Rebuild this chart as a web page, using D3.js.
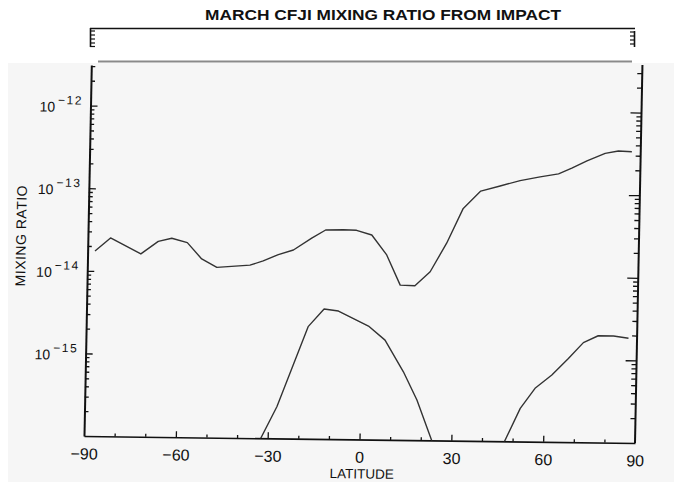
<!DOCTYPE html>
<html><head><meta charset="utf-8">
<script src="https://cdn.jsdelivr.net/npm/d3@7"></script>
<style>
body{margin:0;background:#fff}
text{font-family:"Liberation Sans",Arial,Helvetica,sans-serif;fill:#111}
</style></head><body>
<svg id="chart" width="674" height="482"></svg>
<script>
// ---- data ----
const chartTitle = "MARCH CFJI MIXING RATIO FROM IMPACT";
const xTitle = "LATITUDE";
const yTitle = "MIXING RATIO";
const xTickValues = [-90, -60, -30, 0, 30, 60, 90];
const xMinorTicks = [-80, -70, -50, -40, -20, -10, 10, 20, 40, 50, 70, 80];
const yDecadeExponents = [-12, -13, -14, -15];

// upper curve (total CFJI mixing ratio)
const upperLat = [-87.6, -82.6, -72.6, -67.0, -62.6, -57.5, -52.7, -47.7, -36.9, -32.6, -27.7, -22.8, -16.9, -12.4, -6.6, -2.3, 2.7, 7.7, 12.3, 17.1, 22.0, 27.2, 32.4, 38.0, 44.3, 50.8, 57.3, 63.3, 67.6, 72.5, 78.4, 82.7, 87.1];
const upperVal = [1.74e-14, 2.52e-14, 1.63e-14, 2.33e-14, 2.55e-14, 2.27e-14, 1.45e-14, 1.15e-14, 1.24e-14, 1.40e-14, 1.68e-14, 1.92e-14, 2.69e-14, 3.39e-14, 3.44e-14, 3.40e-14, 3.00e-14, 1.73e-14, 7.5e-15, 7.4e-15, 1.10e-14, 2.45e-14, 6.5e-14, 1.06e-13, 1.23e-13, 1.44e-13, 1.61e-13, 1.76e-13, 2.07e-13, 2.56e-13, 3.17e-13, 3.40e-13, 3.35e-13];

// lower curve (drops below the axis floor between the humps)
const lowerLat = [-37.5, -27.2, -17.5, -12.4, -7.7, 2.2, 7.7, 13.9, 18.5, 27.5, 37.5, 42.5, 52.3, 57.0, 62.4, 67.7, 72.5, 77.3, 82.3, 87.2];
const lowerVal = [4e-17, 2.42e-16, 2.28e-15, 3.75e-15, 3.56e-15, 2.37e-15, 1.61e-15, 6.7e-16, 3.07e-16, 4.2e-17, 1e-17, 4e-17, 2.52e-16, 4.43e-16, 6.45e-16, 1.03e-15, 1.61e-15, 1.96e-15, 1.96e-15, 1.85e-15];

// ---- drawing ----
const svg = d3.select("#chart");
const FONT = '"Liberation Sans",Arial,Helvetica,sans-serif';

// scanned-page look: white header, light grey scan area
svg.append("rect").attr("x", 0).attr("y", 0).attr("width", 674).attr("height", 482).attr("fill", "#ffffff");
svg.append("rect").attr("x", 8).attr("y", 63).attr("width", 666).attr("height", 419).attr("fill", "#f6f6f6");

// title
svg.append("text").attr("x", 383).attr("y", 20).attr("text-anchor", "middle")
  .attr("font-size", 14).attr("font-weight", "bold")
  .attr("textLength", 356).attr("lengthAdjust", "spacingAndGlyphs")
  .text(chartTitle);

// header frame remnants
const hdr = svg.append("g").attr("stroke", "#111").attr("fill", "none");
hdr.append("line").attr("x1", 90).attr("x2", 635).attr("y1", 28.5).attr("y2", 28.5).attr("stroke-width", 1.5);
hdr.append("line").attr("x1", 90.5).attr("x2", 90.5).attr("y1", 28).attr("y2", 47).attr("stroke-width", 1.6);
[31, 35, 39, 43, 46.5].forEach(v => hdr.append("line").attr("x1", 90).attr("x2", 95).attr("y1", v).attr("y2", v).attr("stroke-width", 1.2));
hdr.append("line").attr("x1", 634.5).attr("x2", 634.5).attr("y1", 31).attr("y2", 47).attr("stroke-width", 1.6);
[32, 36, 40, 44].forEach(v => hdr.append("line").attr("x1", 630).attr("x2", 635).attr("y1", v).attr("y2", v).attr("stroke-width", 1.2));
svg.append("line").attr("x1", 98).attr("x2", 632).attr("y1", 61.5).attr("y2", 61.5)
  .attr("stroke", "#8a8a8a").attr("stroke-width", 2);

// plot group (the scanned figure is slightly skewed)
const g = svg.append("g").attr("transform", "matrix(1,0.0127,-0.0197,1,8.59,-1.07)");

const x = d3.scaleLinear().domain([-90, 90]).range([84, 635]);
const y = d3.scaleLog().domain([1e-16, 3.1e-12]).range([436, 65]);

const majors = yDecadeExponents.map(e => Math.pow(10, e));
const minors = [];
for (let n = -16; n <= -12; n++) for (let k = 2; k <= 9; k++) {
  const v = k * Math.pow(10, n);
  if (v >= 1e-16 && v <= 3.1e-12) minors.push(v);
}

function styleAxis(sel, w) {
  sel.selectAll("path").attr("stroke", "#111").attr("stroke-width", w);
  sel.selectAll("line").attr("stroke", "#111").attr("stroke-width", 1.3);
}

// left axis (ticks inward)
const la = g.append("g").attr("transform", `translate(${x(-90)},0)`)
  .call(d3.axisRight(y).tickValues(majors).tickSizeInner(7).tickSizeOuter(0).tickFormat(""));
styleAxis(la, 2);
const lam = g.append("g").attr("transform", `translate(${x(-90)},0)`)
  .call(d3.axisRight(y).tickValues(minors).tickSizeInner(4).tickSizeOuter(0).tickFormat(""));
lam.select(".domain").remove(); styleAxis(lam, 1);

// right axis (ticks inward)
const ra = g.append("g").attr("transform", `translate(${x(90)},0)`)
  .call(d3.axisLeft(y).tickValues(majors).tickSizeInner(11).tickSizeOuter(0).tickFormat(""));
styleAxis(ra, 2);
ra.select(".domain").attr("d", `M0,${y.range()[0]}V${y.range()[1] - 7}`);
const ram = g.append("g").attr("transform", `translate(${x(90)},0)`)
  .call(d3.axisLeft(y).tickValues(minors).tickSizeInner(5).tickSizeOuter(0).tickFormat(""));
ram.select(".domain").remove(); styleAxis(ram, 1);

// bottom axis
const ba = g.append("g").attr("transform", `translate(0,${y(1e-16)})`)
  .call(d3.axisBottom(x).tickValues(xTickValues).tickSizeInner(-6).tickSizeOuter(0).tickPadding(12));
styleAxis(ba, 1.6);
ba.selectAll("text").attr("font-size", 16).attr("font-family", FONT).attr("fill", "#1a1a1a");
ba.selectAll(".tick").filter(d => d === -90 || d === 90).select("line").remove();
const bam = g.append("g").attr("transform", `translate(0,${y(1e-16)})`)
  .call(d3.axisBottom(x).tickValues(xMinorTicks).tickSizeInner(-3).tickSizeOuter(0).tickFormat(""));
bam.select(".domain").remove(); styleAxis(bam, 1);

// y tick labels 10^n
yDecadeExponents.forEach(e => {
  const yy = y(Math.pow(10, e));
  const t = g.append("text").attr("x", 33).attr("y", yy + 6.5).attr("font-size", 14).attr("fill", "#1a1a1a");
  t.append("tspan").text("10");
  t.append("tspan").attr("dx", 3).attr("dy", -7.5).attr("font-size", 12)
    .attr("letter-spacing", 1.5).text("\u2212" + Math.abs(e));
});

// axis titles
g.append("text").attr("x", x(0) + 3).attr("y", 475).attr("text-anchor", "middle")
  .attr("font-size", 13.5).attr("fill", "#1a1a1a").text(xTitle);
g.append("text").attr("transform", `translate(22,${y(2.6e-14)}) rotate(-90)`)
  .attr("text-anchor", "middle").attr("font-size", 14).attr("letter-spacing", 0.5)
  .attr("fill", "#444").text(yTitle);

// curves, clipped to the plotting frame
g.append("clipPath").attr("id", "plotclip").append("rect")
  .attr("x", x(-90)).attr("y", y.range()[1] - 7)
  .attr("width", x(90) - x(-90)).attr("height", y.range()[0] - y.range()[1] + 7);

const line = d3.line().x(d => x(d[0])).y(d => y(d[1]));
const curves = g.append("g").attr("clip-path", "url(#plotclip)");
curves.append("path").datum(d3.zip(upperLat, upperVal)).attr("d", line)
  .attr("fill", "none").attr("stroke", "#333").attr("stroke-width", 1.4).attr("stroke-linejoin", "round");
curves.append("path").datum(d3.zip(lowerLat, lowerVal)).attr("d", line)
  .attr("fill", "none").attr("stroke", "#333").attr("stroke-width", 1.4).attr("stroke-linejoin", "round");
</script>
</body></html>
